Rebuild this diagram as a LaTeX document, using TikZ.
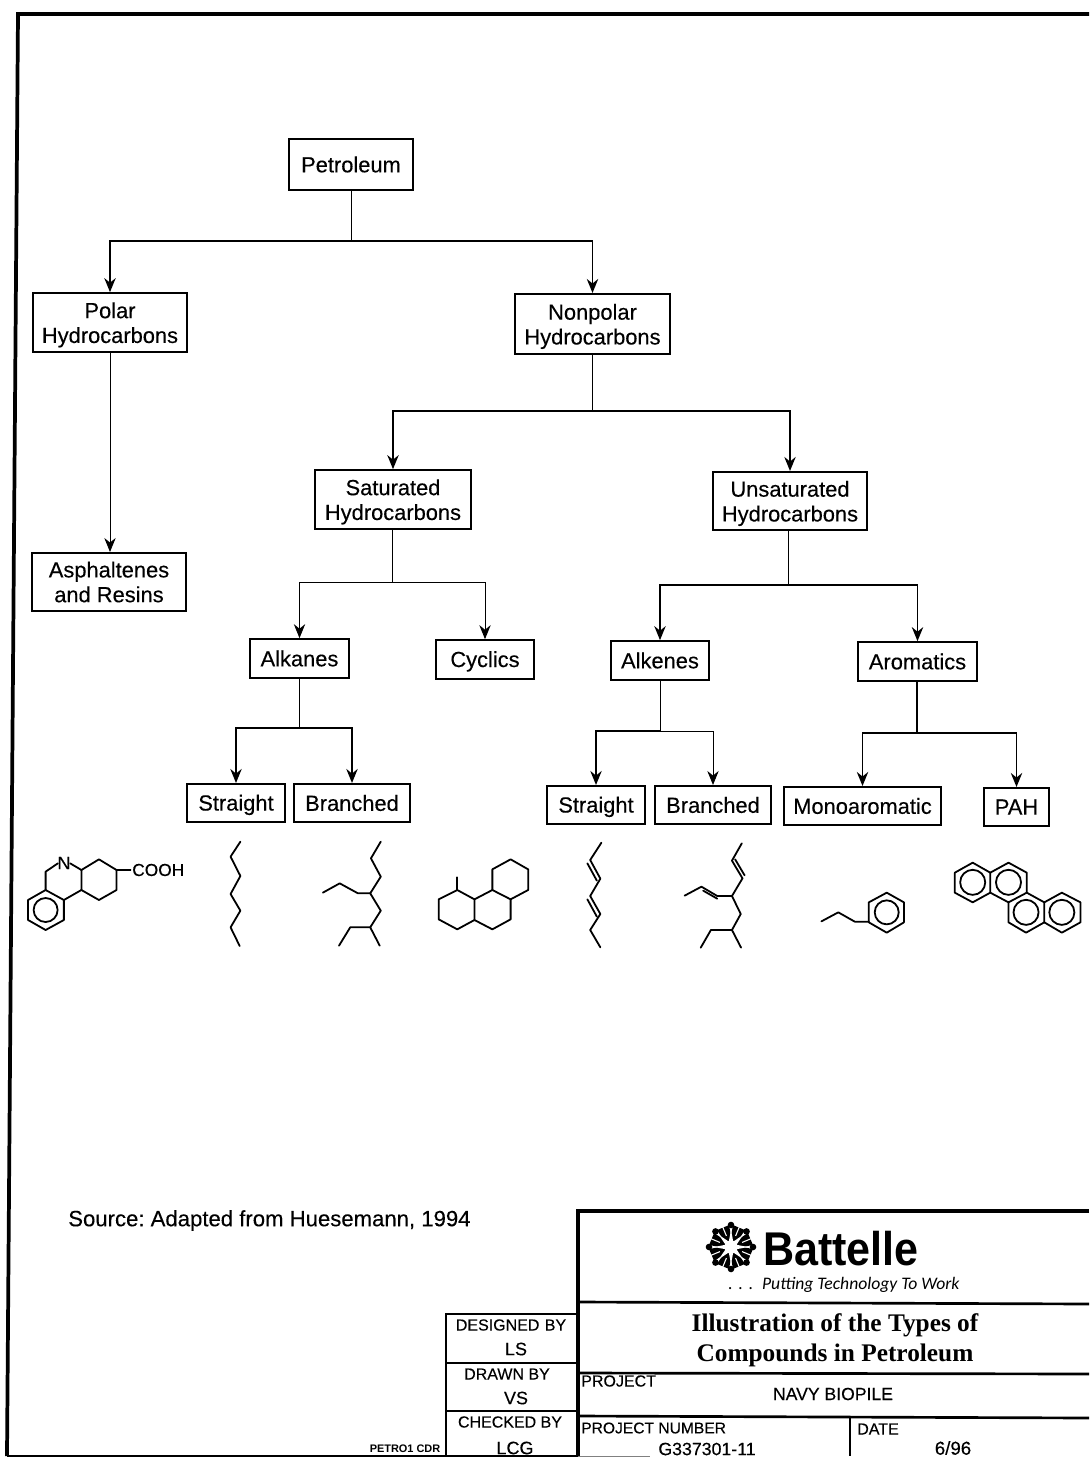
\documentclass[tikz,border=0pt]{standalone}
\usepackage{fontspec}
\setmainfont[FakeBold=0.25]{Liberation Sans}
\newfontfamily\plainsans{Liberation Sans}
\newfontfamily\serifb{Liberation Serif}
\newfontfamily\tagfont{Carlito}
\usetikzlibrary{arrows.meta}
\tikzset{
  px/.style={x=0.75pt,y=-0.75pt},
  bx/.style={draw,line width=1.5pt,inner sep=0pt,align=center,anchor=center,font=\fontsize{16.4}{18.6}\selectfont},
  thin conn/.style={line width=0.7pt},
  conn/.style={line width=1.4pt},
  arr/.style={-{Stealth[length=10.5pt,width=8.5pt]}},
  mol/.style={line width=1.35pt,line join=round,line cap=round},
  frame/.style={line width=2.2pt},
  cell/.style={line width=2pt},
  lbl/.style={inner sep=0pt,font=\fontsize{12}{14}\selectfont},
  src/.style={inner sep=0pt,font=\fontsize{16.6}{18}\selectfont},
  zl/.style={shift={(0,820)},x=0.2632pt,y=-0.25pt},
}
\newcommand{\toptxt}{\rule{0pt}{15.5pt}}
\newcommand{\nodepth}[1]{\vphantom{B}\smash{#1}}
\begin{document}
\begin{tikzpicture}[px]
\useasboundingbox (0,0) rectangle (1089,1458);
\fill[white] (0,0) rectangle (1089,1458);
% frame
\draw[frame,line width=2.8pt] (1089,14) -- (18,14) -- (7,1456);
\draw[frame,line width=1.8pt] (7,1456) -- (578,1456);
\draw[line width=0.6pt,gray] (578,1456.5) -- (650,1456.5);
% boxes
\node[bx,minimum width=93pt,minimum height=38pt] (pet) at (351,164.5) {Petroleum};
\node[bx,minimum width=115.5pt,minimum height=44pt] (pol) at (110,322.5) {\toptxt Polar\\Hydrocarbons};
\node[bx,minimum width=116pt,minimum height=45pt] (non) at (592.5,324) {\toptxt Nonpolar\\Hydrocarbons};
\node[bx,minimum width=115.5pt,minimum height=43.5pt] (asp) at (109,582) {Asphaltenes\\and Resins};
\node[bx,minimum width=117pt,minimum height=44pt] (sat) at (393,499.5) {\toptxt Saturated\\Hydrocarbons};
\node[bx,minimum width=115.5pt,minimum height=43.5pt] (uns) at (790,501) {\toptxt Unsaturated\\Hydrocarbons};
\node[bx,minimum width=74pt,minimum height=29pt] (aka) at (299.5,658.5) {Alkanes};
\node[bx,minimum width=73.5pt,minimum height=29pt] (cyc) at (485,659.5) {\nodepth{Cyclics}};
\node[bx,minimum width=73.5pt,minimum height=29pt] (ake) at (660,660.5) {Alkenes};
\node[bx,minimum width=89pt,minimum height=29pt] (aro) at (917.5,661.5) {Aromatics};
\node[bx,minimum width=73.5pt,minimum height=28.5pt] (st1) at (236,803) {\nodepth{Straight}};
\node[bx,minimum width=87pt,minimum height=28.5pt] (br1) at (352,803) {Branched};
\node[bx,minimum width=73.5pt,minimum height=28.5pt] (st2) at (596,805) {\nodepth{Straight}};
\node[bx,minimum width=87pt,minimum height=28.5pt] (br2) at (713,805) {Branched};
\node[bx,minimum width=117.5pt,minimum height=28.5pt] (mon) at (862.5,806) {Monoaromatic};
\node[bx,minimum width=49pt,minimum height=28.5pt] (pah) at (1016.5,807) {PAH};
% junctions
\coordinate (j1) at (351,241);
\coordinate (j2) at (592,411);
\coordinate (j3) at (392,582);
\coordinate (j4) at (788,585);
\coordinate (j5) at (299,728);
\coordinate (j6) at (660,731);
\coordinate (j7) at (917,733);
% connectors
\draw[thin conn] (pet.south) -- (j1);
\draw[conn,arr] (j1) -| (pol.north);
\draw[conn,arr] (j1) -| (non.north);
\draw[thin conn,arr] (pol.south) -- (pol.south |- asp.north);
\draw[thin conn] (non.south -| j2) -- (j2);
\draw[conn,arr] (j2) -| (sat.north);
\draw[conn,arr] (j2) -| (uns.north);
\draw[thin conn] (sat.south -| j3) -- (j3);
\draw[thin conn,arr] (j3) -| (aka.north);
\draw[thin conn,arr] (j3) -| (cyc.north);
\draw[thin conn] (uns.south -| j4) -- (j4);
\draw[conn,arr] (j4) -| (ake.north);
\draw[conn,arr] (j4) -| (aro.north);
\draw[thin conn] (aka.south -| j5) -- (j5);
\draw[conn,arr] (j5) -| (st1.north);
\draw[conn,arr] (j5) -| (br1.north);
\draw[thin conn] (ake.south -| j6) -- (j6);
\draw[conn,arr] (j6) -| (st2.north);
\draw[thin conn,arr] (j6) -| (br2.north);
\draw[conn] (aro.south -| j7) -- (j7);
\draw[conn,arr] (j7) -| (mon.north);
\draw[conn,arr] (j7) -| (pah.north);
% molecules, left half
\begin{scope}[zl,mol]
\draw (130,210)--(182,240)--(182,300)--(130,330)--(80,300)--(80,240)--cycle;
\draw (130,270) circle [radius=9pt];
\draw (130,210)--(130,155)--(165,130);
\draw (200,130)--(232,150)--(232,210)--(182,240);
\draw (232,150)--(282,118)--(332,150)--(332,210)--(282,240)--(232,210);
\draw (332,150)--(372,150);
\draw (685,65)--(657,110)--(685,168)--(657,222)--(685,272)--(657,322)--(683,378);
\draw (1085,65)--(1057,115)--(1085,170)--(1055,220)--(1020,220)--(968,190)--(920,218);
\draw (1055,220)--(1085,272)--(1055,322)--(998,322)--(966,377);
\draw (1055,322)--(1082,377);
\draw (1303,210)--(1352,238)--(1352,300)--(1303,328)--(1250,298)--(1250,238)--cycle;
\draw (1303,210)--(1303,172);
\draw (1352,238)--(1403,210)--(1455,238)--(1455,298)--(1403,328)--(1352,300);
\draw (1403,210)--(1403,148)--(1455,118)--(1505,148)--(1505,210)--(1455,238);
\end{scope}
\node[lbl,font=\fontsize{13.5}{14}\selectfont] (nn) at (64,863) {N};
\node[lbl,anchor=west,font=\fontsize{13}{14}\selectfont] (cooh) at (132,870) {COOH};
% molecules, right half
\begin{scope}[shift={(540,0)},zl,mol]
\draw (175,68)--(143,120)--(172,176)--(143,228)--(172,282)--(143,330)--(172,382);
\draw (135,130)--(162,182);
\draw (135,238)--(162,290);
\draw (575,70)--(547,122)--(577,175)--(547,228)--(505,228)--(460,200)--(412,227);
\draw (556,118)--(583,166);
\draw (465,212)--(505,236);
\draw (547,228)--(572,282)--(547,330)--(487,330)--(458,383);
\draw (547,330)--(573,383);
\draw (988,218)--(1037,247)--(1037,307)--(988,338)--(937,307)--(937,247)--cycle;
\draw (988,277) circle [radius=9pt];
\draw (937,305)--(897,305)--(850,277)--(802,304);
\draw (1233,128)--(1283,158)--(1283,218)--(1233,247)--(1182,218)--(1182,158)--cycle;
\draw (1233,187) circle [radius=9.4pt];
\draw (1283,158)--(1335,128)--(1387,158)--(1387,218)--(1335,247)--(1283,218);
\draw (1335,187) circle [radius=9.4pt];
\draw (1387,218)--(1437,247)--(1437,307)--(1385,338)--(1335,307)--(1335,247);
\draw (1385,277) circle [radius=9.4pt];
\draw (1437,247)--(1487,218)--(1540,247)--(1540,307)--(1487,338)--(1437,307);
\draw (1487,277) circle [radius=9.4pt];
\end{scope}
% source
\node[src,anchor=west] (source) at (68,1220.5) {\frenchspacing Source: Adapted from Huesemann, 1994};
% title block
\draw[frame,line width=2.4pt] (1089,1211) -- (578,1211) -- (578,1456);
\draw[cell] (578,1302) -- (1089,1304);
\draw[cell] (578,1373) -- (1089,1374);
\draw[cell] (578,1416) -- (1089,1418);
\draw[cell] (850,1417) -- (850,1456);
\draw[cell] (578,1314) -- (446,1314) -- (446,1456);
\draw[cell] (446,1363) -- (578,1363);
\draw[cell] (446,1411) -- (578,1411);
% logo
\begin{scope}[shift={(731,1247)}]
\foreach \a in {0,45,...,315}{
  \fill[rotate=\a+22.5] (4,-3) -- (21,-6.5) -- (21,6.5) -- (4,3) -- cycle;
  \draw[white,line width=0.8pt,rotate=\a+22.5] (12,0) -- (23,0);
  \fill[rotate=\a] (22,0) circle [radius=3.3];
}
\fill[rotate=22.5,white] (0,0) circle [radius=6.5];
\foreach \a in {0,45,...,315}{
  \fill[white,rotate=\a] (4,-2.5) -- (17,0) -- (4,2.5) -- cycle;
}
\end{scope}
\node[inner sep=0pt,anchor=west,xscale=0.91,transform shape,font=\plainsans\fontsize{35.5}{38}\bfseries] (batt) at (763,1249) {Battelle};
\node[inner sep=0pt,anchor=west,font=\tagfont\itshape\fontsize{13.2}{15}\selectfont] (tag) at (728,1285) {.\,\,.\,\,.\,\,\,Putting Technology To Work};
\node[inner sep=0pt,align=center,font=\serifb\bfseries\fontsize{19}{22.2}\selectfont] (ttl) at (835,1340) {Illustration of the Types of\\Compounds in Petroleum};
\node[lbl] (d1) at (511,1325) {DESIGNED\,\,BY};
\node[lbl,font=\fontsize{13.5}{14}\selectfont] (d2) at (516,1349) {LS};
\node[lbl] (d3) at (507,1374) {DRAWN BY};
\node[lbl,font=\fontsize{13.5}{14}\selectfont] (d4) at (516,1398) {VS};
\node[lbl] (d5) at (510,1422) {CHECKED BY};
\node[lbl,font=\fontsize{13.5}{14}\selectfont] (d6) at (515,1448) {LCG};
\node[lbl,font=\plainsans\fontsize{8.2}{9}\bfseries] (fn) at (405,1449) {PETRO1 CDR};
\node[lbl,anchor=west] (p1) at (581,1381) {PROJECT};
\node[lbl,font=\fontsize{13.2}{14}\selectfont] (p2) at (833,1394) {NAVY BIOPILE};
\node[lbl,anchor=west,font=\fontsize{11.7}{14}\selectfont] (p3) at (581,1428) {PROJECT NUMBER};
\node[lbl,font=\fontsize{13.3}{14}\selectfont] (p4) at (707,1449) {G337301-11};
\node[lbl,anchor=west] (p5) at (857,1429) {DATE};
\node[lbl,font=\fontsize{14}{14}\selectfont] (p6) at (953,1448) {6/96};
\end{tikzpicture}
\end{document}
